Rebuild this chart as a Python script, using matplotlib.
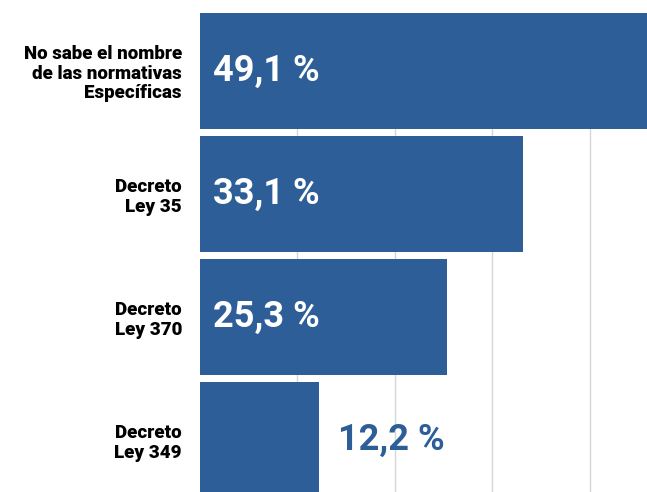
import matplotlib
matplotlib.use("Agg")
import matplotlib.pyplot as plt

categories = ["No sabe el nombre\nde las normativas\nEspecíficas", "Decreto\nLey 35", "Decreto\nLey 370", "Decreto\nLey 349"]
values = [49.1, 33.1, 25.3, 12.2]
value_labels = ["49,1 %", "33,1 %", "25,3 %", "12,2 %"]
inside = [True, True, True, False]

BLUE = "#2d5e97"

fig = plt.figure(figsize=(6.47, 4.92), dpi=100)
ax = fig.add_axes([200 / 647, 0, 1 - 200 / 647, (492 - 12.7) / 492])

y = list(range(len(categories)))
ax.barh(y, values, height=0.945, color=BLUE, zorder=2)

ax.set_xlim(0, 45.85)
ax.set_ylim(3.424, -0.4725)
ax.set_xticks([10, 20, 30, 40])
ax.xaxis.grid(True, color="#d6d6d6", linewidth=1.0, zorder=0)
ax.set_axisbelow(True)
ax.tick_params(axis="x", length=0, labelbottom=False)
ax.set_yticks(y)
ax.set_yticklabels(categories, fontsize=13.5, fontweight="heavy", family="Roboto",
                   linespacing=1.12)
ax.tick_params(axis="y", length=0, pad=13)
for s in ax.spines.values():
    s.set_visible(False)

for yi, v, lab, ins in zip(y, values, value_labels, inside):
    if ins:
        ax.annotate(lab, xy=(0, yi), xytext=(9.5, 0), textcoords="offset points",
                    ha="left", va="center", color="white", fontsize=26,
                    fontweight="bold", family="Roboto")
    else:
        ax.annotate(lab, xy=(v, yi), xytext=(13.5, 0), textcoords="offset points",
                    ha="left", va="center", color=BLUE, fontsize=26,
                    fontweight="bold", family="Roboto")

fig.savefig("out.png", dpi=100)
